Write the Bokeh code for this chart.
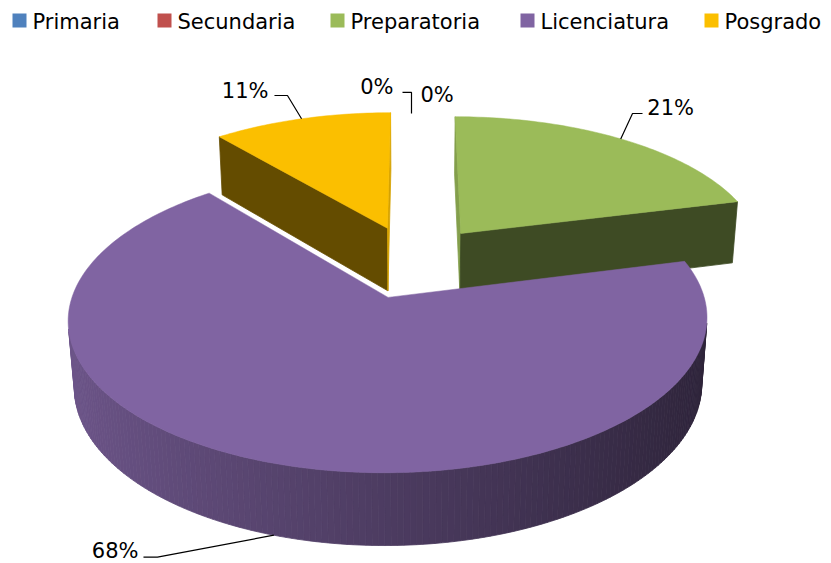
import numpy as np
from bokeh.plotting import figure
from bokeh.models import Range1d, ColumnDataSource
from bokeh.core.properties import value
from bokeh.embed import file_html
from bokeh.resources import INLINE

# ---------------- data ----------------
categories = ["Primaria", "Secundaria", "Preparatoria", "Licenciatura", "Posgrado"]
percents = [0, 0, 21, 68, 11]
pct_labels = ["0%", "0%", "21%", "68%", "11%"]
colors = ["#4F81BD", "#C0504D", "#9BBB59", "#8064A2", "#FBBF00"]

# ---------------- style / geometry ----------------
W, H = 831, 563
CX, CY = 413.0, 261.0
F = 1960.0
DIST = 6.42
SIN_T = 0.459
COS_T = float(np.sqrt(1 - SIN_T ** 2))
THICK = 0.24
EXPLODE = 0.26
FONT = "DejaVu Sans"
FSIZE = "21px"

# label placement relative to anchor (pixels): text offset, align, leader path offsets
label_style = [
    dict(text=(-20, -24), align="right", path=[(-2, 2.3), (-2, -18.7), (-11, -18.7)]),
    dict(text=(7, -16.5), align="left", path=None),
    dict(text=(26.6, -30.7), align="left", path=[(0, 0), (11.8, -25.4), (21.8, -25.4)]),
    dict(text=(-135.4, 15.5), align="right", path=[(0, 0), (-116.4, 22), (-130.4, 22)]),
    dict(text=(-33.1, -27.6), align="right", path=[(0, 0), (-14.1, -23.3), (-27.1, -23.3)]),
]
legend_sq_x = [12, 157, 330, 520, 704]
LEG_SQ = 14
LEG_Y = 20
LEG_TEXT_Y = 21

CAM = np.array([0.0, DIST * SIN_T, DIST * COS_T])


def proj(X, Y, Z):
    X = np.asarray(X, float); Y = np.asarray(Y, float); Z = np.asarray(Z, float)
    depth = DIST - Y * SIN_T - Z * COS_T
    return CX + F * X / depth, CY - F * (Y * COS_T - Z * SIN_T) / depth


def shade(hexcol, f):
    h = hexcol.lstrip("#")
    r, g, b = (int(h[i:i + 2], 16) for i in (0, 2, 4))
    r, g, b = (max(0, min(255, int(round(v * f)))) for v in (r, g, b))
    return "#%02x%02x%02x" % (r, g, b)


p = figure(width=W, height=H, x_range=Range1d(0, W), y_range=Range1d(H, 0),
           output_backend="svg", toolbar_location=None, min_border=0,
           x_axis_location=None, y_axis_location=None)
p.grid.visible = False
p.outline_line_color = None
p.background_fill_color = "white"
p.border_fill_color = "white"

total = float(sum(percents))
cum = np.concatenate([[0.0], np.cumsum(percents)]) / total * 2 * np.pi

slices = []
for i, v in enumerate(percents):
    a0, a1 = cum[i], cum[i + 1]
    mid = 0.5 * (a0 + a1)
    ox, oz = EXPLODE * np.sin(mid), -EXPLODE * np.cos(mid)
    slices.append(dict(i=i, a0=a0, a1=a1, mid=mid, ox=ox, oz=oz,
                       zkey=oz - 0.5 * np.cos(mid)))

# draw slices back-to-front
for sl in sorted(slices, key=lambda d: d["zkey"]):
    i = sl["i"]
    if percents[i] <= 0:
        continue
    a0, a1, ox, oz = sl["a0"], sl["a1"], sl["ox"], sl["oz"]
    n = max(3, int(np.degrees(a1 - a0) / 1.0) + 1)
    th = np.linspace(a0, a1, n)
    rx, rz = ox + np.sin(th), oz - np.cos(th)
    tx, ty = proj(rx, np.zeros(n), rz)
    bx, by = proj(rx, -THICK * np.ones(n), rz)
    ax_t, ay_t = proj(ox, 0.0, oz)
    ax_b, ay_b = proj(ox, -THICK, oz)

    xs, ys, cs = [], [], []
    # radial faces
    for ang, sign in ((a0, -1), (a1, 1)):
        nrm = np.array([sign * np.cos(ang), 0.0, sign * np.sin(ang)])
        P = np.array([ox, -THICK / 2, oz])
        if np.dot(nrm, CAM - P) > 0:
            ex, ez = ox + np.sin(ang), oz - np.cos(ang)
            etx, ety = proj(ex, 0.0, ez)
            ebx, eby = proj(ex, -THICK, ez)
            xs.append([float(ax_t), float(etx), float(ebx), float(ax_b)])
            ys.append([float(ay_t), float(ety), float(eby), float(ay_b)])
            cs.append(shade(colors[i], 0.40 if nrm[2] > 0.3 else 0.85))
    # outer curved side
    for k in range(n - 1):
        tm = 0.5 * (th[k] + th[k + 1])
        nrm = np.array([np.sin(tm), 0.0, -np.cos(tm)])
        P = np.array([ox + np.sin(tm), -THICK / 2, oz - np.cos(tm)])
        if np.dot(nrm, CAM - P) > 0:
            xs.append([float(tx[k]), float(tx[k + 1]), float(bx[k + 1]), float(bx[k])])
            ys.append([float(ty[k]), float(ty[k + 1]), float(by[k + 1]), float(by[k])])
            cs.append(shade(colors[i], 0.60 - 0.25 * np.sin(tm)))
    if xs:
        src = ColumnDataSource(dict(xs=xs, ys=ys, c=cs))
        p.patches("xs", "ys", source=src, fill_color="c", line_color="c", line_width=0.8)
    # top face
    p.patch(np.concatenate([[ax_t], tx]).tolist(), np.concatenate([[ay_t], ty]).tolist(),
            fill_color=colors[i], line_color=colors[i], line_width=0.5)

# data labels with leader lines
for sl in slices:
    i = sl["i"]
    mid, ox, oz = sl["mid"], sl["ox"], sl["oz"]
    yv = -THICK if np.cos(mid) < -0.5 else 0.0
    axp, ayp = proj(ox + np.sin(mid), yv, oz - np.cos(mid))
    axp, ayp = float(axp), float(ayp)
    st = label_style[i]
    if st["path"]:
        p.line([axp + dx for dx, dy in st["path"]], [ayp + dy for dx, dy in st["path"]],
               line_color="black", line_width=1.2)
    p.text(x=[axp + st["text"][0]], y=[ayp + st["text"][1]], text=[pct_labels[i]],
           text_align=st["align"], text_baseline="middle",
           text_font=value(FONT), text_font_size=FSIZE, text_color="black")

# legend
for i, cat in enumerate(categories):
    x0 = legend_sq_x[i]
    p.rect(x=[x0 + LEG_SQ / 2], y=[LEG_Y], width=LEG_SQ, height=LEG_SQ,
           fill_color=colors[i], line_color=None)
    p.text(x=[x0 + LEG_SQ + 6], y=[LEG_TEXT_Y], text=[cat], text_align="left",
           text_baseline="middle", text_font=value(FONT), text_font_size=FSIZE,
           text_color="black")

open("out.html", "w").write(file_html(p, INLINE))
